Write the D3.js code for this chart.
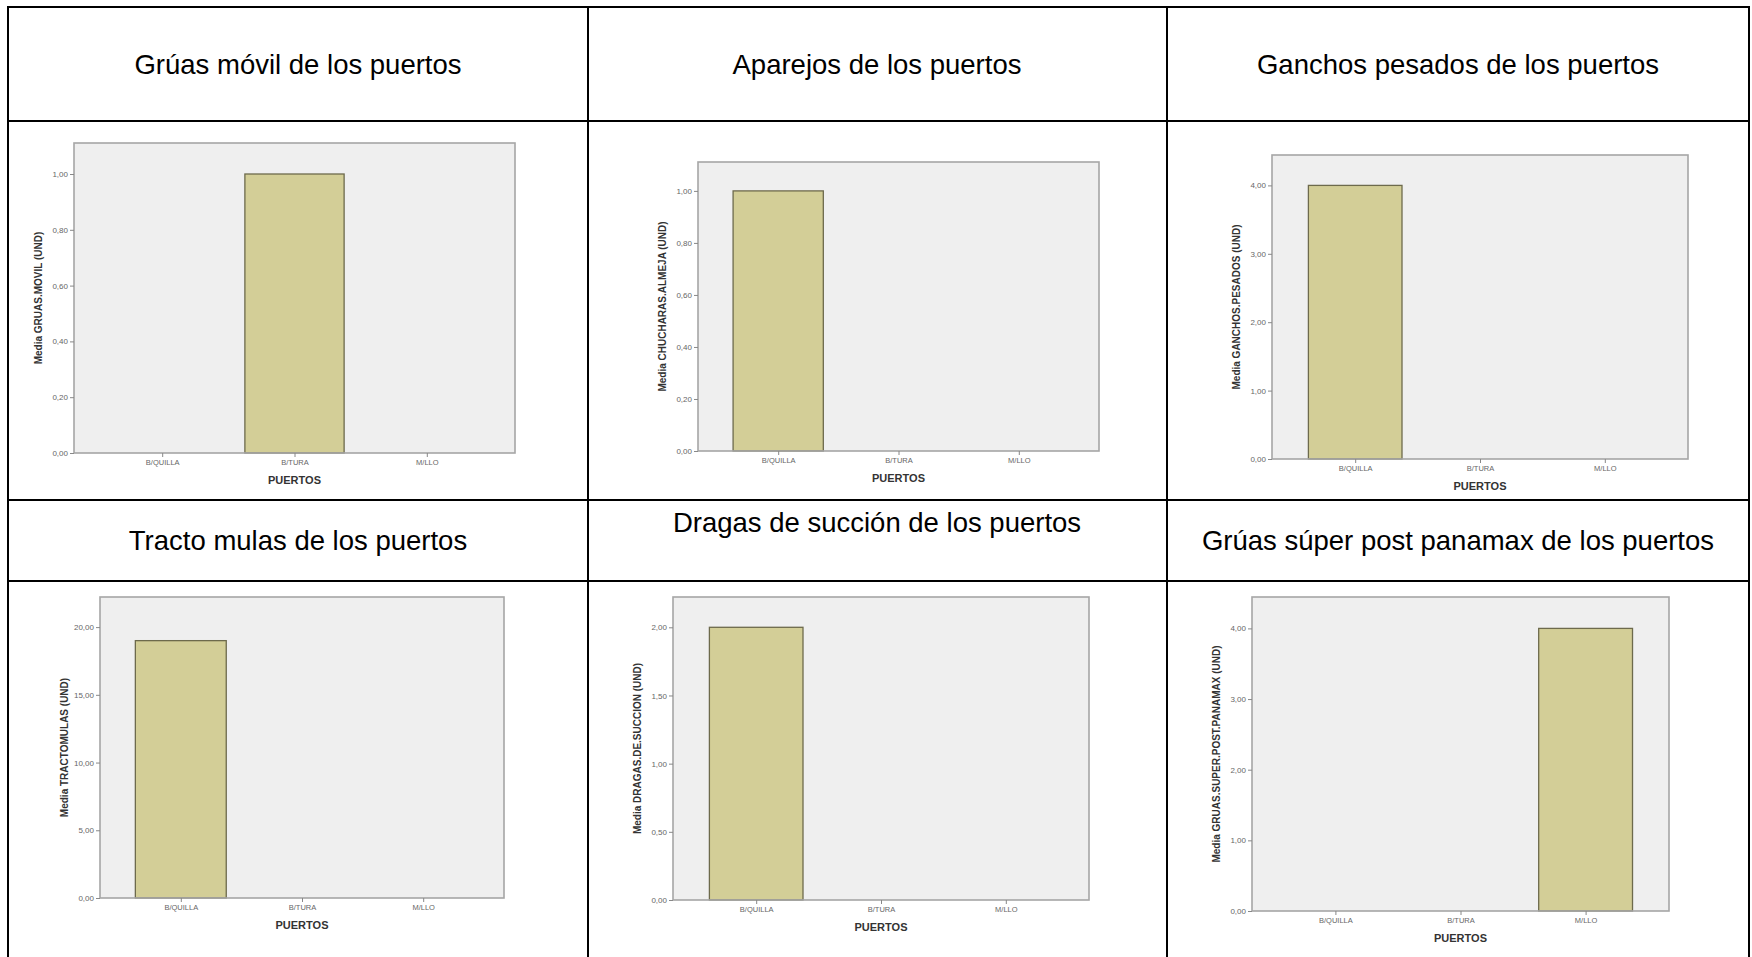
<!DOCTYPE html>
<html>
<head>
<meta charset="utf-8">
<script src="https://cdn.jsdelivr.net/npm/d3@7"></script>
<style>
  body { margin: 0; background: #fff; }
  text { font-family: "Liberation Sans", Arial, sans-serif; }
</style>
</head>
<body>
<div id="tablaPuertos"></div>
<script>
// valores (media por puerto)
const puertos = ["B/QUILLA", "B/TURA", "M/LLO"];

const gruasMovil = [0, 1, 0];
const aparejos = [1, 0, 0];
const ganchosPesados = [4, 0, 0];
const tractoMulas = [19, 0, 0];
const dragasSuccion = [2, 0, 0];
const gruasPanamax = [0, 0, 4];

const titulos = [
  "Grúas móvil de los puertos",
  "Aparejos de los puertos",
  "Ganchos pesados de los puertos",
  "Tracto mulas de los puertos",
  "Dragas de succión de los puertos",
  "Grúas súper post panamax de los puertos"
];

const etiquetasY = [
  "Media GRUAS.MOVIL (UND)",
  "Media CHUCHARAS.ALMEJA (UND)",
  "Media GANCHOS.PESADOS (UND)",
  "Media TRACTOMULAS (UND)",
  "Media DRAGAS.DE.SUCCION (UND)",
  "Media GRUAS.SUPER.POST.PANAMAX (UND)"
];

const ticksGruasMovil = [0, 0.2, 0.4, 0.6, 0.8, 1];
const ticksAparejos = [0, 0.2, 0.4, 0.6, 0.8, 1];
const ticksGanchos = [0, 1, 2, 3, 4];
const ticksTracto = [0, 5, 10, 15, 20];
const ticksDragas = [0, 0.5, 1, 1.5, 2];
const ticksPanamax = [0, 1, 2, 3, 4];

const ejeX = "PUERTOS";

// tamaño general
const canvasWidth = 1752;
const canvasHeight = 957;

// numeros con coma decimal (como en SPSS en español)
const esLocale = d3.formatLocale({ decimal: ",", thousands: ".", grouping: [3], currency: ["", " €"] });
const fmt = esLocale.format(".2f");

const charts = [
  { values: gruasMovil, ticks: ticksGruasMovil, title: titulos[0], yLabel: etiquetasY[0],
    titleX: 298, titleY: 74, frame: { x0: 74, x1: 515, y0: 143, y1: 453 } },
  { values: aparejos, ticks: ticksAparejos, title: titulos[1], yLabel: etiquetasY[1],
    titleX: 877, titleY: 74, frame: { x0: 698, x1: 1099, y0: 162, y1: 451 } },
  { values: ganchosPesados, ticks: ticksGanchos, title: titulos[2], yLabel: etiquetasY[2],
    titleX: 1458, titleY: 74, frame: { x0: 1272, x1: 1688, y0: 155, y1: 459 } },
  { values: tractoMulas, ticks: ticksTracto, title: titulos[3], yLabel: etiquetasY[3],
    titleX: 298, titleY: 550, frame: { x0: 100, x1: 504, y0: 597, y1: 898 } },
  { values: dragasSuccion, ticks: ticksDragas, title: titulos[4], yLabel: etiquetasY[4],
    titleX: 877, titleY: 532, frame: { x0: 673, x1: 1089, y0: 597, y1: 900 } },
  { values: gruasPanamax, ticks: ticksPanamax, title: titulos[5], yLabel: etiquetasY[5],
    titleX: 1458, titleY: 550, frame: { x0: 1252, x1: 1669, y0: 597, y1: 911 } }
];

const svg = d3.select("#tablaPuertos")
  .append("svg")
  .attr("width", canvasWidth)
  .attr("height", canvasHeight);

svg.append("rect")
  .attr("width", canvasWidth)
  .attr("height", canvasHeight)
  .attr("fill", "white");

// lineas de la tabla
const colLines = [8, 588, 1167, 1749];
const rowLines = [7, 121, 500, 581];

svg.selectAll(".colLine")
  .data(colLines)
  .enter()
  .append("line")
  .attr("class", "colLine")
  .attr("x1", d => d).attr("x2", d => d)
  .attr("y1", 6).attr("y2", canvasHeight)
  .attr("stroke", "black")
  .attr("stroke-width", 2);

svg.selectAll(".rowLine")
  .data(rowLines)
  .enter()
  .append("line")
  .attr("class", "rowLine")
  .attr("x1", 7).attr("x2", 1750)
  .attr("y1", d => d).attr("y2", d => d)
  .attr("stroke", "black")
  .attr("stroke-width", 2);

charts.forEach(c => drawChart(c));

function drawChart(c) {
  const f = c.frame;

  svg.append("text")
    .attr("x", c.titleX)
    .attr("y", c.titleY)
    .attr("text-anchor", "middle")
    .attr("font-size", "27.5px")
    .attr("fill", "black")
    .text(c.title);

  const y = d3.scaleLinear()
    .domain([0, d3.max(c.ticks) / 0.9])
    .range([f.y1, f.y0]);

  const x = d3.scalePoint()
    .domain(puertos)
    .range([f.x0, f.x1])
    .padding(2 / 3);

  const barWidth = x.step() * 0.75;

  const g = svg.append("g");

  // fondo del grafico
  g.append("rect")
    .attr("x", f.x0).attr("y", f.y0)
    .attr("width", f.x1 - f.x0).attr("height", f.y1 - f.y0)
    .attr("fill", "#efefef");

  const rows = puertos.map((p, i) => ({ puerto: p, valor: c.values[i] }))
    .filter(d => d.valor > 0);

  g.selectAll(".bar")
    .data(rows)
    .enter()
    .append("rect")
    .attr("class", "bar")
    .attr("x", d => x(d.puerto) - barWidth / 2)
    .attr("y", d => y(d.valor))
    .attr("width", barWidth)
    .attr("height", d => y(0) - y(d.valor))
    .attr("fill", "#d3ce97")
    .attr("stroke", "#6d6a4c")
    .attr("stroke-width", 1.3);

  g.append("rect")
    .attr("x", f.x0).attr("y", f.y0)
    .attr("width", f.x1 - f.x0).attr("height", f.y1 - f.y0)
    .attr("fill", "none")
    .attr("stroke", "#a6a6a6")
    .attr("stroke-width", 1.6);

  const yAxis = g.append("g")
    .attr("transform", `translate(${f.x0},0)`)
    .call(d3.axisLeft(y).tickValues(c.ticks).tickSize(4).tickPadding(2).tickFormat(fmt));
  yAxis.select(".domain").remove();
  yAxis.selectAll("line").attr("stroke", "#888");
  yAxis.selectAll("text")
    .attr("font-size", "8px")
    .attr("fill", "#666")
    .style("font-family", "'Liberation Sans', Arial, sans-serif");

  const xAxis = g.append("g")
    .attr("transform", `translate(0,${f.y1})`)
    .call(d3.axisBottom(x).tickSize(4).tickPadding(3));
  xAxis.select(".domain").remove();
  xAxis.selectAll("line").attr("stroke", "#888");
  xAxis.selectAll("text")
    .attr("font-size", "7.5px")
    .attr("fill", "#666")
    .style("font-family", "'Liberation Sans', Arial, sans-serif");

  g.append("text")
    .attr("transform", `translate(${f.x0 - 35},${(f.y0 + f.y1) / 2}) rotate(-90)`)
    .attr("text-anchor", "middle")
    .attr("dominant-baseline", "middle")
    .attr("font-size", "10px")
    .attr("font-weight", "bold")
    .attr("fill", "#333")
    .text(c.yLabel);

  g.append("text")
    .attr("x", (f.x0 + f.x1) / 2)
    .attr("y", f.y1 + 31)
    .attr("text-anchor", "middle")
    .attr("font-size", "11px")
    .attr("font-weight", "bold")
    .attr("fill", "#333")
    .text(ejeX);
}
</script>
</body>
</html>
